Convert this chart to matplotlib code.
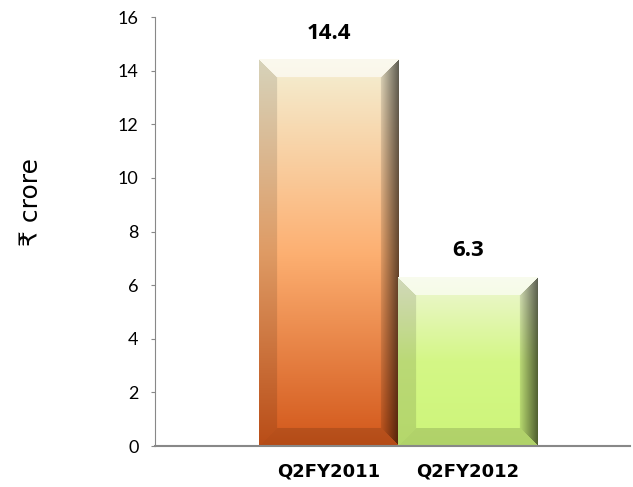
import numpy as np
import matplotlib.pyplot as plt
from matplotlib.colors import to_rgb

quarters = ['Q2FY2011', 'Q2FY2012']
values = [14.4, 6.3]
top_colors = ['#f4f0d4', '#eef6d4']
mid_colors = ['#fdb072', '#d4f786']
bottom_colors = ['#d2571a', '#cdf57a']

fig = plt.figure(figsize=(6.33, 4.87), dpi=100)
ax = fig.add_axes([0.245, 0.084, 0.751, 0.881])
ax.set_xlim(-1.25, 2.17)
ax.set_ylim(0, 16)

# data units per pixel
px_x = (2.17 + 1.25) / (0.751 * 633)
px_y = 16 / (0.881 * 487)


def bevel_bar(w, h, top, mid, bot):
    t = np.linspace(0, 1, h)[:, None]
    c_top, c_mid, c_bot = (np.array(to_rgb(c)) for c in (top, mid, bot))
    k = np.clip(t / 0.5, 0, 1)
    k2 = np.clip((t - 0.5) / 0.5, 0, 1)
    col = np.where(t < 0.5, c_top + (c_mid - c_top) * k, c_mid + (c_bot - c_mid) * k2)
    img = np.repeat(col[:, None, :], w, axis=1).reshape(h, w, 3)

    yy, xx = np.mgrid[0:h, 0:w]
    dt, db, dl, dr = yy, h - 1 - yy, xx, w - 1 - xx
    d = np.stack([dt, dl, db, dr])
    face = d.argmin(axis=0)
    dmin = d.min(axis=0)
    bev = 18
    inb = dmin < bev
    out = img.copy()
    m = inb & (face == 0)
    out[m] = out[m] * 0.4 + 0.6
    m = inb & (face == 1)
    out[m] = out[m] * 0.88
    m = inb & (face == 2)
    out[m] = out[m] * 0.86
    m = inb & (face == 3)
    f = (0.4 + 0.5 * (dr / bev))[m][:, None]
    out[m] = out[m] * f
    return np.clip(out, 0, 1)


for i, v in enumerate(values):
    x0, x1 = i - 0.5, i + 0.5
    w = int(round(1 / px_x))
    h = int(round(v / px_y))
    img = bevel_bar(w, h, top_colors[i], mid_colors[i], bottom_colors[i])
    ax.imshow(img, extent=[x0, x1, 0, v], aspect='auto', zorder=2,
              interpolation='bilinear')
    ax.text(i, v + 1.0, f'{v:.1f}', ha='center', va='center',
            fontsize=16, fontweight='bold', family='Open Sans', color='black')

ax.set_xlim(-1.25, 2.17)
ax.set_ylim(0, 16)

ax.set_yticks(range(0, 17, 2))
ax.tick_params(axis='y', length=3, pad=9, color='#888888', labelsize=13)
for lab in ax.get_yticklabels():
    lab.set_family('Lato')

ax.set_xticks(range(len(quarters)))
ax.set_xticklabels(quarters, fontsize=13, fontweight='bold', family='DejaVu Sans')
ax.tick_params(axis='x', length=0, pad=12)

for s in ['top', 'right']:
    ax.spines[s].set_visible(False)
ax.spines['left'].set_color('#888888')
ax.spines['bottom'].set_color('#888888')
ax.spines['bottom'].set_linewidth(1.5)

ax.set_ylabel('₹ crore', fontsize=18, family=['DejaVu Sans'])
ax.yaxis.set_label_coords(-0.235, 0.57)

fig.savefig('out.png', dpi=100)
